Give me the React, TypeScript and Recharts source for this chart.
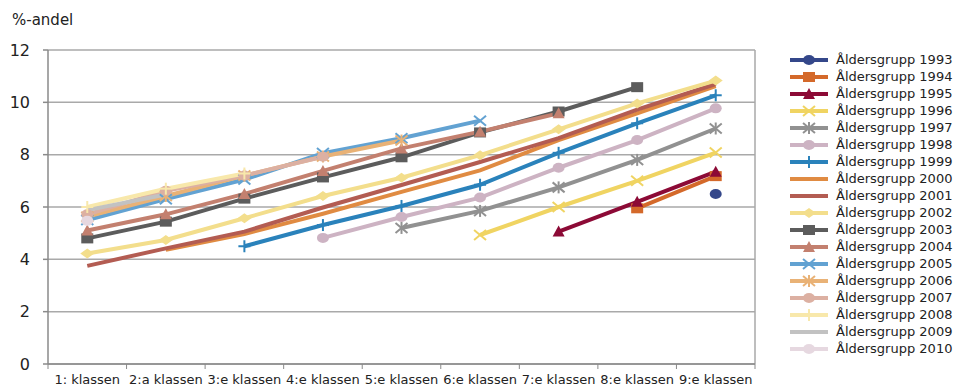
import React from 'react';
import { LineChart, Line, XAxis, YAxis, CartesianGrid } from 'recharts';

const klasser = [
  '1: klassen', '2:a klassen', '3:e klassen', '4:e klassen', '5:e klassen',
  '6:e klassen', '7:e klassen', '8:e klassen', '9:e klassen',
];

const yTicks = [0, 2, 4, 6, 8, 10, 12];

const ag1993 = [null, null, null, null, null, null, null, null, 6.5];
const ag1994 = [null, null, null, null, null, null, null, 5.95, 7.18];
const ag1995 = [null, null, null, null, null, null, 5.06, 6.2, 7.35];
const ag1996 = [null, null, null, null, null, 4.93, 6.0, 7.0, 8.08];
const ag1997 = [null, null, null, null, 5.2, 5.85, 6.75, 7.8, 9.0];
const ag1998 = [null, null, null, 4.82, 5.62, 6.36, 7.5, 8.56, 9.77];
const ag1999 = [null, null, 4.5, 5.31, 6.04, 6.85, 8.07, 9.2, 10.27];
const ag2000 = [null, 4.36, 4.97, 5.74, 6.58, 7.4, 8.56, 9.58, 10.62];
const ag2001 = [3.75, 4.42, 5.06, 5.98, 6.84, 7.72, 8.63, 9.72, 10.7];
const ag2002 = [4.22, 4.74, 5.57, 6.42, 7.12, 7.98, 8.97, 9.96, 10.83];
const ag2003 = [4.8, 5.44, 6.32, 7.13, 7.9, 8.85, 9.65, 10.58, null];
const ag2004 = [5.1, 5.72, 6.5, 7.38, 8.24, 8.88, 9.58, null, null];
const ag2005 = [5.5, 6.3, 7.05, 8.06, 8.63, 9.3, null, null, null];
const ag2006 = [5.63, 6.42, 7.2, 7.93, 8.54, null, null, null, null];
const ag2007 = [5.72, 6.62, 7.2, 7.92, null, null, null, null, null];
const ag2008 = [6.0, 6.7, 7.28, null, null, null, null, null, null];
const ag2009 = [5.88, 6.48, null, null, null, null, null, null, null];
const ag2010 = [5.47, null, null, null, null, null, null, null, null];

type Shape = 'circle' | 'square' | 'triangle' | 'x' | 'star' | 'plus' | 'diamond' | 'none';

const series: { name: string; values: (number | null)[]; color: string; shape: Shape }[] = [
  { name: 'Åldersgrupp 1993', values: ag1993, color: '#34478a', shape: 'circle' },
  { name: 'Åldersgrupp 1994', values: ag1994, color: '#d4692a', shape: 'square' },
  { name: 'Åldersgrupp 1995', values: ag1995, color: '#8c0a36', shape: 'triangle' },
  { name: 'Åldersgrupp 1996', values: ag1996, color: '#f0d462', shape: 'x' },
  { name: 'Åldersgrupp 1997', values: ag1997, color: '#919191', shape: 'star' },
  { name: 'Åldersgrupp 1998', values: ag1998, color: '#cdb3c3', shape: 'circle' },
  { name: 'Åldersgrupp 1999', values: ag1999, color: '#2a82bb', shape: 'plus' },
  { name: 'Åldersgrupp 2000', values: ag2000, color: '#e08b42', shape: 'none' },
  { name: 'Åldersgrupp 2001', values: ag2001, color: '#b35c52', shape: 'none' },
  { name: 'Åldersgrupp 2002', values: ag2002, color: '#f3de8c', shape: 'diamond' },
  { name: 'Åldersgrupp 2003', values: ag2003, color: '#5c5c5c', shape: 'square' },
  { name: 'Åldersgrupp 2004', values: ag2004, color: '#c3806f', shape: 'triangle' },
  { name: 'Åldersgrupp 2005', values: ag2005, color: '#62a2d2', shape: 'x' },
  { name: 'Åldersgrupp 2006', values: ag2006, color: '#e9b276', shape: 'star' },
  { name: 'Åldersgrupp 2007', values: ag2007, color: '#dcb0a2', shape: 'circle' },
  { name: 'Åldersgrupp 2008', values: ag2008, color: '#f8e8ab', shape: 'plus' },
  { name: 'Åldersgrupp 2009', values: ag2009, color: '#c2c2c2', shape: 'none' },
  { name: 'Åldersgrupp 2010', values: ag2010, color: '#e6d8e0', shape: 'circle' },
];

const data = klasser.map((k, i) => {
  const row: Record<string, string | number | null> = { klass: k };
  series.forEach((s) => {
    row[s.name] = s.values[i];
  });
  return row;
});

const FONT = '"DejaVu Sans", Verdana, sans-serif';

function Marker({ cx, cy, color, shape }: { cx: number; cy: number; color: string; shape: Shape }) {
  switch (shape) {
    case 'circle':
      return <ellipse cx={cx} cy={cy} rx={6} ry={5} fill={color} />;
    case 'square':
      return <rect x={cx - 6} y={cy - 5} width={12} height={10} fill={color} />;
    case 'triangle':
      return <polygon points={`${cx - 6},${cy + 5} ${cx + 6},${cy + 5} ${cx},${cy - 6}`} fill={color} />;
    case 'diamond':
      return <polygon points={`${cx - 7},${cy} ${cx},${cy - 5} ${cx + 7},${cy} ${cx},${cy + 5}`} fill={color} />;
    case 'x':
      return (
        <g stroke={color} strokeWidth={2}>
          <line x1={cx - 6} y1={cy - 5} x2={cx + 6} y2={cy + 5} />
          <line x1={cx - 6} y1={cy + 5} x2={cx + 6} y2={cy - 5} />
        </g>
      );
    case 'star':
      return (
        <g stroke={color} strokeWidth={2}>
          <line x1={cx - 6} y1={cy - 5} x2={cx + 6} y2={cy + 5} />
          <line x1={cx - 6} y1={cy + 5} x2={cx + 6} y2={cy - 5} />
          <line x1={cx} y1={cy - 6} x2={cx} y2={cy + 6} />
        </g>
      );
    case 'plus':
      return (
        <g stroke={color} strokeWidth={2}>
          <line x1={cx - 6} y1={cy} x2={cx + 6} y2={cy} />
          <line x1={cx} y1={cy - 6} x2={cx} y2={cy + 6} />
        </g>
      );
    default:
      return null;
  }
}

const makeDot = (color: string, shape: Shape) => (props: any) => {
  const { cx, cy, index, value } = props;
  if (shape === 'none' || value == null || cy == null || Number.isNaN(cy)) {
    return <g key={`d-${index}`} />;
  }
  return (
    <g key={`d-${index}`}>
      <Marker cx={cx} cy={cy} color={color} shape={shape} />
    </g>
  );
};

// category labels centred in each band, tick marks on the band edges
const XTick = (props: any) => {
  const { x, y, payload, index, visibleTicksCount, width } = props;
  const bw = width && visibleTicksCount ? width / visibleTicksCount : 78.6;
  const left = x - bw / 2;
  return (
    <g>
      <line x1={left} y1={y - 8} x2={left} y2={y - 3} stroke="#8a8a8a" />
      {index === visibleTicksCount - 1 && (
        <line x1={left + bw} y1={y - 8} x2={left + bw} y2={y - 3} stroke="#8a8a8a" />
      )}
      <text x={x} y={y + 12} textAnchor="middle" fontSize={13} fontFamily={FONT} fill="#222">
        {payload.value}
      </text>
    </g>
  );
};

// right-hand frame line of the plot area
const rightEdge = ({ offset }: any) => [offset.left + offset.width];

function LegendBox() {
  return (
    <div style={{ position: 'absolute', left: 790, top: 51, fontFamily: FONT, fontSize: 13, color: '#222' }}>
      {series.map((s) => (
        <div key={s.name} style={{ display: 'flex', alignItems: 'center', height: 17 }}>
          <svg width={40} height={14} style={{ marginRight: 6 }}>
            <line x1={0} y1={7} x2={38} y2={7} stroke={s.color} strokeWidth={4} />
            <Marker cx={19} cy={7} color={s.color} shape={s.shape} />
          </svg>
          <span style={{ whiteSpace: 'nowrap' }}>{s.name}</span>
        </div>
      ))}
    </div>
  );
}

export default function App() {
  return (
    <div style={{ position: 'absolute', left: 0, top: 0, width: 957, height: 388, background: '#fff' }}>
      <div style={{ position: 'absolute', left: 12, top: 11, fontFamily: FONT, fontSize: 15, color: '#222' }}>
        %-andel
      </div>
      <LineChart width={957} height={388} data={data} margin={{ top: 50, right: 202, bottom: 0, left: 0 }}>
        <CartesianGrid
          horizontal
          vertical
          verticalCoordinatesGenerator={rightEdge}
          stroke="#a9a9a9"
          strokeWidth={1.5}
        />
        <XAxis
          dataKey="klass"
          scale="band"
          height={24}
          interval={0}
          stroke="#8a8a8a"
          strokeWidth={1.5}
          tickLine={false}
          tick={<XTick />}
        />
        <YAxis
          width={48}
          domain={[0, 12]}
          ticks={yTicks}
          stroke="#8a8a8a"
          strokeWidth={1.5}
          tickSize={5}
          tickMargin={13}
          tick={{ fontSize: 16, fill: '#222', fontFamily: FONT }}
        />
        {series.map((s) => (
          <Line
            key={s.name}
            type="linear"
            dataKey={s.name}
            stroke={s.color}
            strokeWidth={4}
            dot={makeDot(s.color, s.shape)}
            activeDot={false}
            isAnimationActive={false}
          />
        ))}
      </LineChart>
      <LegendBox />
    </div>
  );
}
